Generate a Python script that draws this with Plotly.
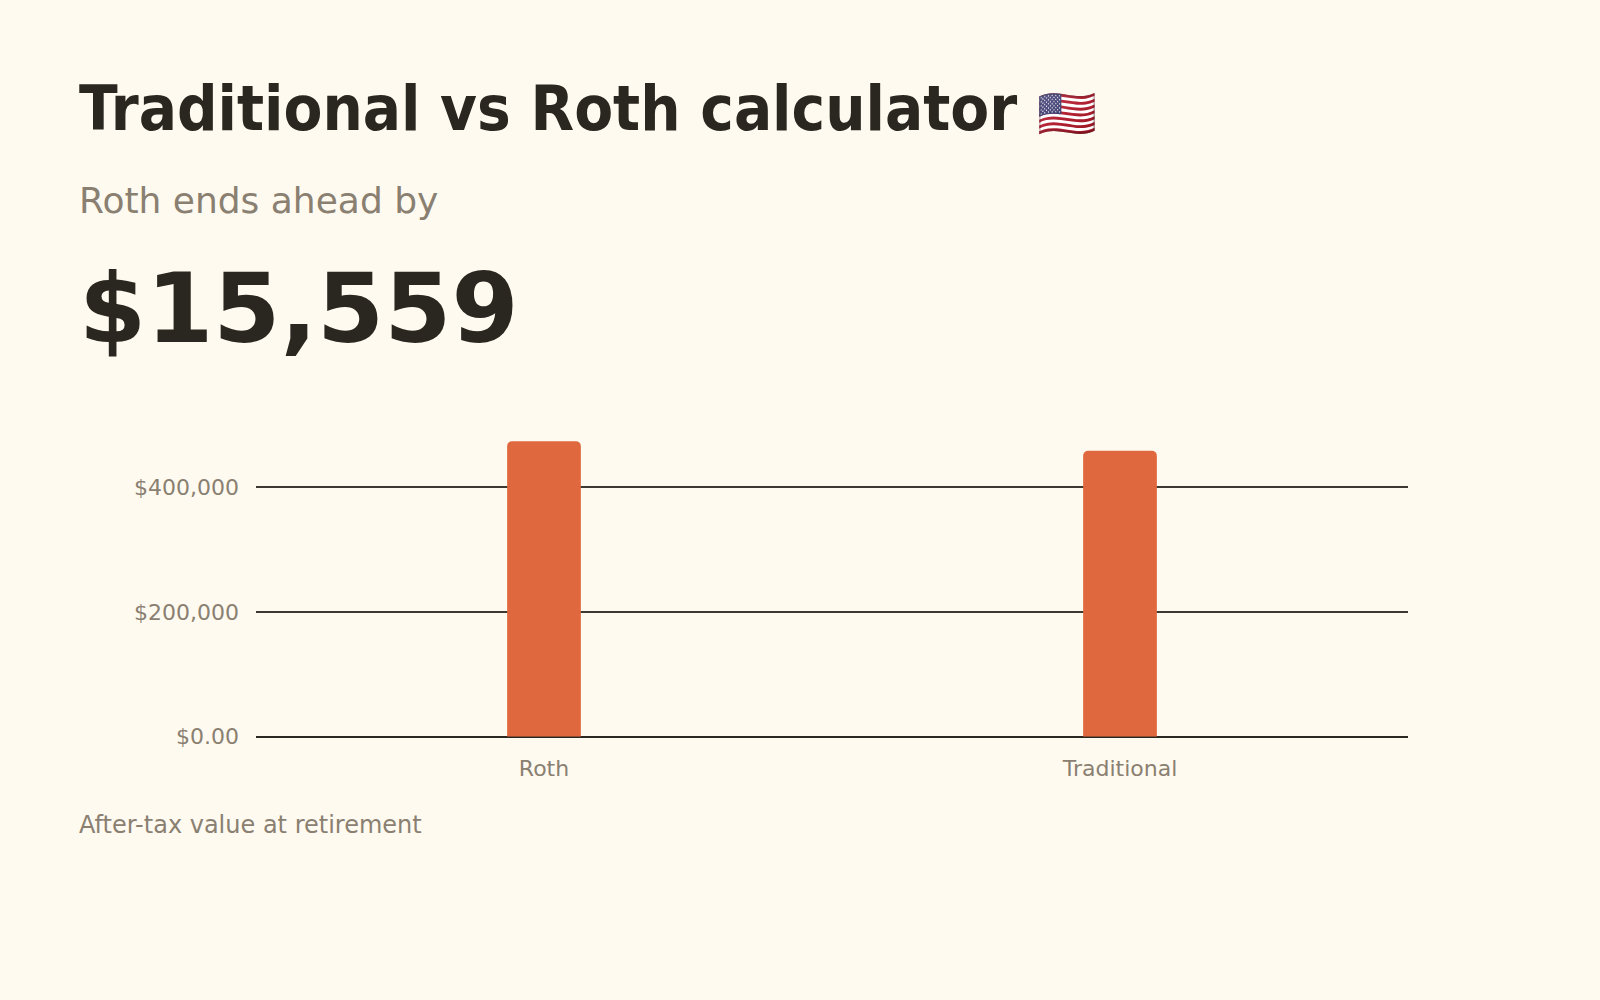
import plotly.graph_objects as go

# After-tax value at retirement, per account type
categories = ["Roth", "Traditional"]
values = [474200, 458641]
tick_values = [0, 200000, 400000]
tick_labels = ["$0.00", "$200,000", "$400,000"]

title_text = 'Traditional vs Roth calculator <span style="font-size:48px">🇺🇸</span>'
subtitle_text = "Roth ends ahead by"
headline_text = "$15,559"
footer_text = "After-tax value at retirement"

bg = "#FFFAEF"
ink = "#2A2620"
muted = "#8A8072"
bar_color = "#E0683E"
W, H = 1600, 1000


def py(px):
    """pixel row from the top -> paper y"""
    return 1 - px / H


fig = go.Figure()
fig.add_trace(go.Bar(
    x=categories,
    y=values,
    width=0.128,
    marker={"color": bar_color, "cornerradius": 5, "line": {"width": 0}},
    hoverinfo="skip",
))

fig.update_layout(
    width=W, height=H,
    margin=dict(l=0, r=0, t=0, b=0),
    paper_bgcolor=bg, plot_bgcolor=bg,
    showlegend=False,
    font=dict(family="DejaVu Sans", color=muted),
    xaxis=dict(
        domain=[256 / W, 1408 / W],
        range=[-0.5, 1.5],
        showgrid=False, zeroline=False, showline=False,
        tickfont=dict(size=22, color=muted),
        ticks="", ticklabelstandoff=16,
    ),
    yaxis=dict(
        domain=[py(746.4), py(443.3)],
        range=[0, 480000],
        tickvals=tick_values, ticktext=tick_labels,
        showgrid=True, gridcolor="#3D3932", gridwidth=2,
        zeroline=True, zerolinecolor=ink, zerolinewidth=2,
        showline=False, ticks="",
        tickfont=dict(size=22, color=muted),
        ticklabelstandoff=16,
    ),
)

# Header and footer texts: (text, baseline px, size, colour, bold, family)
texts = [
    (title_text, 129, 63, ink, True, "DejaVu Sans Condensed, DejaVu Sans"),
    (subtitle_text, 214, 36, muted, False, "DejaVu Sans"),
    (headline_text, 342, 96.5, ink, True, "DejaVu Sans"),
    (footer_text, 843.5, 24, muted, False, "DejaVu Sans"),
]
for txt, base, size, color, bold, fam in texts:
    fig.add_annotation(
        x=76.5 / W, y=py(base - 0.30 * size), xref="paper", yref="paper",
        xanchor="left", yanchor="middle", showarrow=False,
        text=f"<b>{txt}</b>" if bold else txt,
        font=dict(size=size, color=color, family=fam),
    )

# page without the default body margin
page_style = (
    "document.body.style.margin='0';"
    "document.body.style.background='" + bg + "';"
    "document.documentElement.style.background='" + bg + "';"
)
fig.write_html("out.html", post_script=page_style,
               config={"displayModeBar": False})
